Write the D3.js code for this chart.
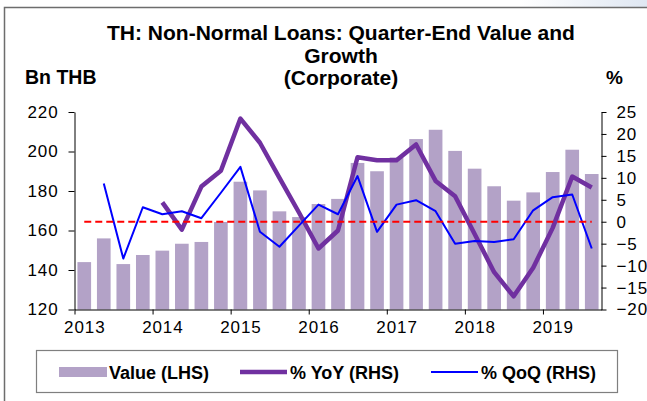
<!DOCTYPE html>
<html>
<head>
<meta charset="utf-8">
<script src="https://cdn.jsdelivr.net/npm/d3@7"></script>
<style>
  html, body { margin: 0; padding: 0; background: #fff; }
  svg { display: block; font-family: "Liberation Sans", Arial, sans-serif; }
</style>
</head>
<body>
<svg width="647" height="401"></svg>
<script>
// Quarters 2013Q1 .. 2019Q3
const quarters = [
  "2013Q1", "2013Q2", "2013Q3", "2013Q4",
  "2014Q1", "2014Q2", "2014Q3", "2014Q4",
  "2015Q1", "2015Q2", "2015Q3", "2015Q4",
  "2016Q1", "2016Q2", "2016Q3", "2016Q4",
  "2017Q1", "2017Q2", "2017Q3", "2017Q4",
  "2018Q1", "2018Q2", "2018Q3", "2018Q4",
  "2019Q1", "2019Q2", "2019Q3"
];

// Value, Bn THB (LHS)
const values = [
  144, 156, 143, 147.6,
  149.8, 153.3, 154.2, 164.3,
  184.7, 180.3, 169.7, 166.8,
  173.4, 176, 194.2, 190,
  197, 206.3, 211, 200.3,
  191.3, 182.4, 175.1, 179.3,
  189.6, 200.9, 188.6
];

// % YoY (RHS)
const yoy = [
  null, null, null, null,
  4.4, -1.8, 8, 11.6,
  23.5, 18, 10, 2.1,
  -6.1, -2, 14.7, 14,
  14, 17.6, 9.3, 5.8,
  -2.8, -11.5, -17, -10.5,
  -1.4, 10.3, 7.8
];

// % QoQ (RHS)
const qoq = [
  null, 8.7, -8.4, 3.3,
  1.7, 2.4, 0.8, 6.6,
  12.5, -2.3, -5.7, -0.9,
  3.9, 1.7, 10.4, -2.3,
  3.9, 4.9, 2.4, -5,
  -4.4, -4.6, -4, 2.6,
  5.6, 6.2, -6.1
];

const years = [2013, 2014, 2015, 2016, 2017, 2018, 2019];
const leftTicks = [120, 140, 160, 180, 200, 220];
const rightTicks = [-20, -15, -10, -5, 0, 5, 10, 15, 20, 25];

const titleLines = ["TH: Non-Normal Loans: Quarter-End Value and", "Growth", "(Corporate)"];
const legendLabels = ["Value (LHS)", "% YoY (RHS)", "% QoQ (RHS)"];

const barColor = "#b3a2c7";
const yoyColor = "#7030a0";
const qoqColor = "#0000ff";

const plot = { left: 74.5, right: 601.5, top: 112, bottom: 309.5 };

const svg = d3.select("svg");

// outer chart frame (top + left edges are the only ones visible)
const grad = svg.append("defs").append("linearGradient")
  .attr("id", "fade").attr("x1", 0).attr("x2", 1);
grad.append("stop").attr("offset", 0).attr("stop-color", "#fff");
grad.append("stop").attr("offset", 1).attr("stop-color", "#dfe7f2");
svg.append("rect").attr("x", 520).attr("y", 0).attr("width", 127).attr("height", 7)
  .attr("fill", "url(#fade)");
svg.append("path")
  .attr("d", "M4.5,401 V7.5 H647")
  .attr("fill", "none")
  .attr("stroke", "#6d6d6d")
  .attr("stroke-width", 1.5);

// scales
const x = d3.scaleBand()
  .domain(quarters)
  .range([plot.left, plot.right])
  .paddingInner(0.3)
  .paddingOuter(0.15);

const yL = d3.scaleLinear().domain([120, 220]).range([plot.bottom, plot.top]);
const yR = d3.scaleLinear().domain([-20, 25]).range([plot.bottom, plot.top]);

const cx = q => x(q) + x.bandwidth() / 2;
const step = x.step();

// bars
svg.append("g")
  .selectAll("rect")
  .data(values)
  .join("rect")
  .attr("x", (d, i) => x(quarters[i]))
  .attr("y", d => yL(d))
  .attr("width", x.bandwidth())
  .attr("height", d => yL(120) - yL(d))
  .attr("fill", barColor);

// lines
const line = d3.line()
  .defined(d => d.v !== null)
  .x(d => cx(d.q))
  .y(d => yR(d.v));

svg.append("path")
  .datum(quarters.map((q, i) => ({ q: q, v: yoy[i] })))
  .attr("fill", "none")
  .attr("stroke", yoyColor)
  .attr("stroke-width", 4.5)
  .attr("stroke-linejoin", "round")
  .attr("d", line);

svg.append("path")
  .datum(quarters.map((q, i) => ({ q: q, v: qoq[i] })))
  .attr("fill", "none")
  .attr("stroke", qoqColor)
  .attr("stroke-width", 2)
  .attr("stroke-linejoin", "round")
  .attr("d", line);

// zero reference line
svg.append("line")
  .attr("x1", cx(quarters[0]))
  .attr("x2", cx(quarters[quarters.length - 1]))
  .attr("y1", yR(0))
  .attr("y2", yR(0))
  .attr("stroke", "#ff0000")
  .attr("stroke-width", 2)
  .attr("stroke-dasharray", "7,4");

// axes
const tickFont = g => g.selectAll("text")
  .attr("font-size", 17)
  .attr("letter-spacing", 0.9)
  .attr("fill", "#000");

svg.append("g")
  .attr("transform", `translate(${plot.left},0)`)
  .call(d3.axisLeft(yL).tickValues(leftTicks).tickSize(6).tickPadding(10).tickSizeOuter(0))
  .call(g => g.attr("font-family", null))
  .call(tickFont);

svg.append("g")
  .attr("transform", `translate(${plot.right},0)`)
  .call(d3.axisRight(yR).tickValues(rightTicks).tickSize(5).tickPadding(10).tickSizeOuter(0))
  .call(g => g.attr("font-family", null))
  .call(tickFont);

// x axis: ticks on year boundaries, labels centred under each Q1 bar
const xYear = d3.scaleLinear()
  .domain([2013, 2013 + quarters.length / 4])
  .range([plot.left, plot.right]);

svg.append("g")
  .attr("transform", `translate(0,${plot.bottom})`)
  .call(d3.axisBottom(xYear).tickValues(years).tickFormat(d3.format("d")).tickSize(5).tickSizeOuter(0))
  .call(g => g.attr("font-family", null))
  .call(tickFont)
  .call(g => g.selectAll(".tick text").attr("dx", step / 2).attr("dy", "0.9em"));

svg.selectAll(".domain, .tick line").attr("stroke", "#000");

// titles
svg.append("g")
  .selectAll("text")
  .data(titleLines)
  .join("text")
  .attr("x", 341)
  .attr("y", (d, i) => 40 + i * 22.5)
  .attr("text-anchor", "middle")
  .attr("font-size", 21)
  .attr("font-weight", "bold")
  .text(d => d);

svg.append("text")
  .attr("x", 25).attr("y", 84)
  .attr("font-size", 19.5).attr("font-weight", "bold")
  .text("Bn THB");

svg.append("text")
  .attr("x", 606).attr("y", 84)
  .attr("font-size", 19).attr("font-weight", "bold")
  .text("%");

// legend
const legend = svg.append("g");
legend.append("rect")
  .attr("x", 36.5).attr("y", 350.5).attr("width", 581).attr("height", 42)
  .attr("fill", "#fff").attr("stroke", "#7f7f7f").attr("stroke-width", 1.2);

const legendX = [59, 240, 431];
legend.append("rect")
  .attr("x", legendX[0]).attr("y", 367).attr("width", 48).attr("height", 10)
  .attr("fill", barColor);
legend.append("line")
  .attr("x1", legendX[1]).attr("x2", legendX[1] + 47).attr("y1", 372).attr("y2", 372)
  .attr("stroke", yoyColor).attr("stroke-width", 4.5);
legend.append("line")
  .attr("x1", legendX[2]).attr("x2", legendX[2] + 47).attr("y1", 372).attr("y2", 372)
  .attr("stroke", qoqColor).attr("stroke-width", 2);

legend.selectAll("text.lbl")
  .data(legendLabels)
  .join("text")
  .attr("class", "lbl")
  .attr("x", (d, i) => legendX[i] + 50)
  .attr("y", 378.5)
  .attr("font-size", 18)
  .attr("font-weight", "bold")
  .text(d => d);
</script>
</body>
</html>
